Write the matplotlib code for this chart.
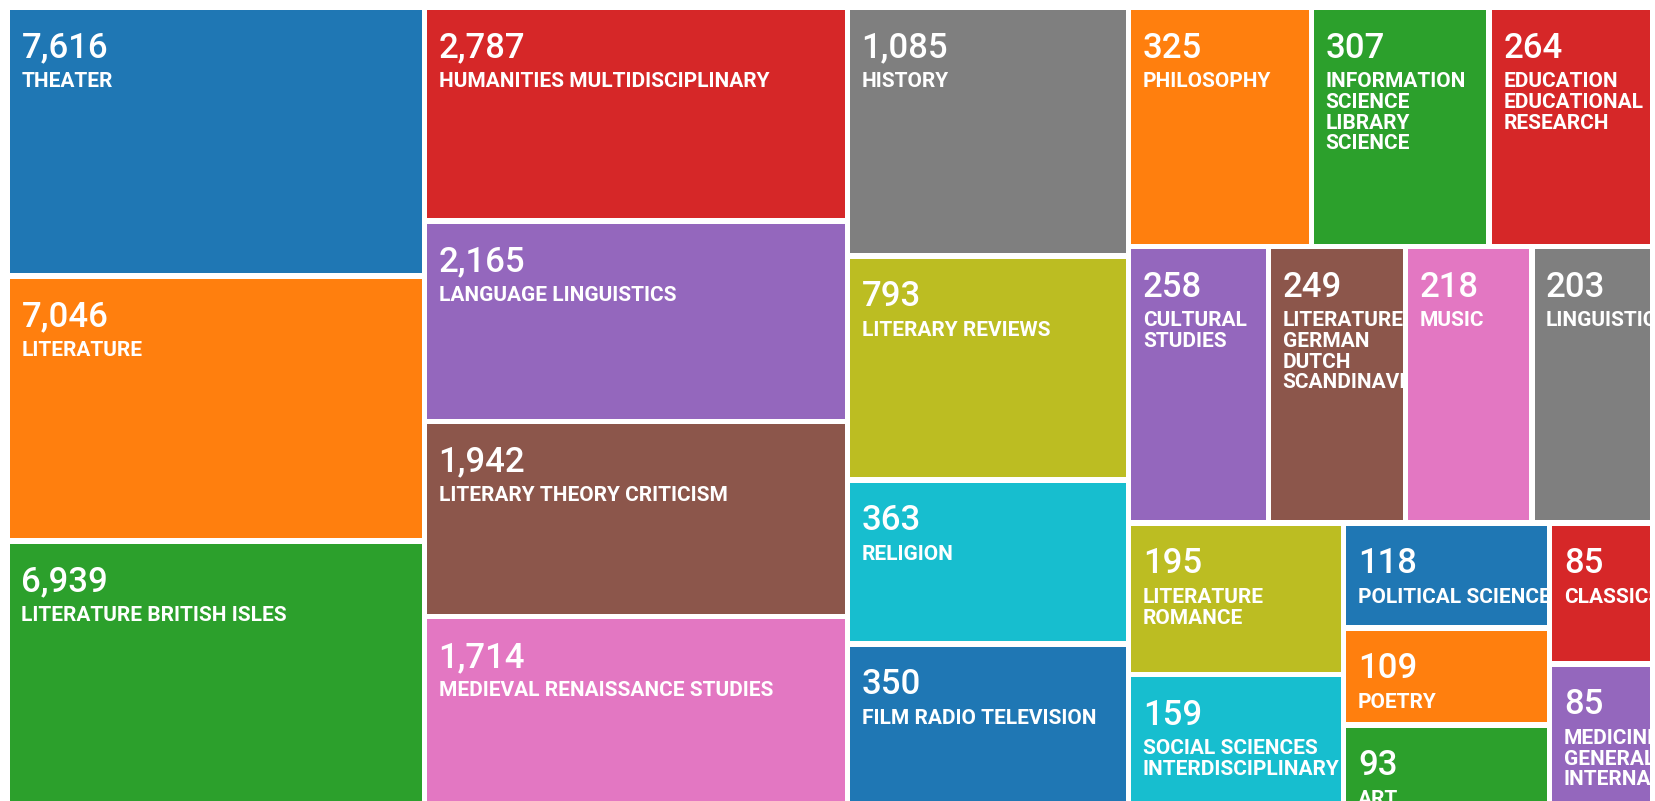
import numpy as np
import matplotlib
matplotlib.use("Agg")
import matplotlib.pyplot as plt
from matplotlib.patches import Rectangle

# ---------------- data ----------------
categories = [
    "THEATER", "LITERATURE", "LITERATURE BRITISH ISLES",
    "HUMANITIES MULTIDISCIPLINARY", "LANGUAGE LINGUISTICS",
    "LITERARY THEORY CRITICISM", "MEDIEVAL RENAISSANCE STUDIES",
    "HISTORY", "LITERARY REVIEWS", "RELIGION", "FILM RADIO TELEVISION",
    "PHILOSOPHY", "INFORMATION\nSCIENCE\nLIBRARY\nSCIENCE",
    "EDUCATION\nEDUCATIONAL\nRESEARCH", "CULTURAL\nSTUDIES",
    "LITERATURE\nGERMAN\nDUTCH\nSCANDINAVIAN", "MUSIC", "LINGUISTICS",
    "LITERATURE\nROMANCE", "SOCIAL SCIENCES\nINTERDISCIPLINARY",
    "POLITICAL SCIENCE", "POETRY", "ART", "CLASSICS",
    "MEDICINE\nGENERAL\nINTERNAL",
]
record_counts = [7616, 7046, 6939, 2787, 2165, 1942, 1714, 1085, 793, 363,
                 350, 325, 307, 264, 258, 249, 218, 203, 195, 159, 118, 109,
                 93, 85, 85]
palette = ['#1f77b4', '#ff7f0e', '#2ca02c', '#d62728', '#9467bd',
           '#8c564b', '#e377c2', '#7f7f7f', '#bcbd22', '#17becf']

# ---------------- treemap layout (d3-style squarify) ----------------
LOG_FLOOR = 43.5      # cell size ~ log(count / LOG_FLOOR)
RATIO = 1.67


def squarify(weights, x0, y0, x1, y1, ratio):
    n = len(weights)
    rects = [None] * n
    value = float(sum(weights))
    i0 = 0
    while i0 < n:
        dx, dy = x1 - x0, y1 - y0
        i1 = i0
        sum_v = weights[i1]
        i1 += 1
        min_v = max_v = sum_v
        alpha = max(dy / dx, dx / dy) / (value * ratio)
        beta = sum_v * sum_v * alpha
        min_ratio = max(max_v / beta, beta / min_v)
        while i1 < n:
            nv = weights[i1]
            s2 = sum_v + nv
            mn, mx = min(min_v, nv), max(max_v, nv)
            beta = s2 * s2 * alpha
            new_ratio = max(mx / beta, beta / mn)
            if new_ratio > min_ratio:
                break
            sum_v, min_v, max_v, min_ratio = s2, mn, mx, new_ratio
            i1 += 1
        idx = range(i0, i1)
        if dx < dy:   # row across the top
            yb = y0 + dy * sum_v / value if i1 < n else y1
            xx = x0
            for i in idx:
                w = (x1 - x0) * weights[i] / sum_v
                rects[i] = (xx, y0, w, yb - y0)
                xx += w
            y0 = yb
        else:         # column on the left
            xb = x0 + dx * sum_v / value if i1 < n else x1
            yy = y0
            for i in idx:
                h = (y1 - y0) * weights[i] / sum_v
                rects[i] = (x0, yy, xb - x0, h)
                yy += h
            x0 = xb
        value -= sum_v
        i0 = i1
    return rects


weights = list(np.log(np.array(record_counts, dtype=float) / LOG_FLOOR))
GAP = 5.5
rects = squarify(weights, 10 - GAP / 2, 10 - GAP / 2,
                 1650 + GAP / 2, 802.5 + GAP / 2, RATIO)

# ---------------- drawing ----------------
W_PX, H_PX = 1656, 801
fig = plt.figure(figsize=(W_PX / 100, H_PX / 100), dpi=100)
fig.patch.set_facecolor('white')
ax = fig.add_axes([0, 0, 1, 1])
ax.set_xlim(0, W_PX)
ax.set_ylim(H_PX, 0)
ax.axis('off')

for i, (name, val, r) in enumerate(zip(categories, record_counts, rects)):
    x, y, w, h = r
    cx, cy, cw, ch = x + GAP / 2, y + GAP / 2, w - GAP, h - GAP
    patch = Rectangle((cx, cy), cw, ch, facecolor=palette[i % 10],
                      edgecolor='none')
    ax.add_patch(patch)
    t1 = ax.text(cx + 11.5, cy + 21.5, f"{val:,}", color='white',
                 fontsize=25, family='Roboto', fontweight='medium',
                 va='top', ha='left', clip_on=True)
    t1.set_clip_path(patch)
    t2 = ax.text(cx + 11.5, cy + 62, name, color='white', fontsize=15.0,
                 family='Roboto', fontweight='bold', va='top', ha='left',
                 linespacing=1.12, clip_on=True)
    t2.set_clip_path(patch)

fig.savefig('out.png', dpi=100, facecolor='white')
